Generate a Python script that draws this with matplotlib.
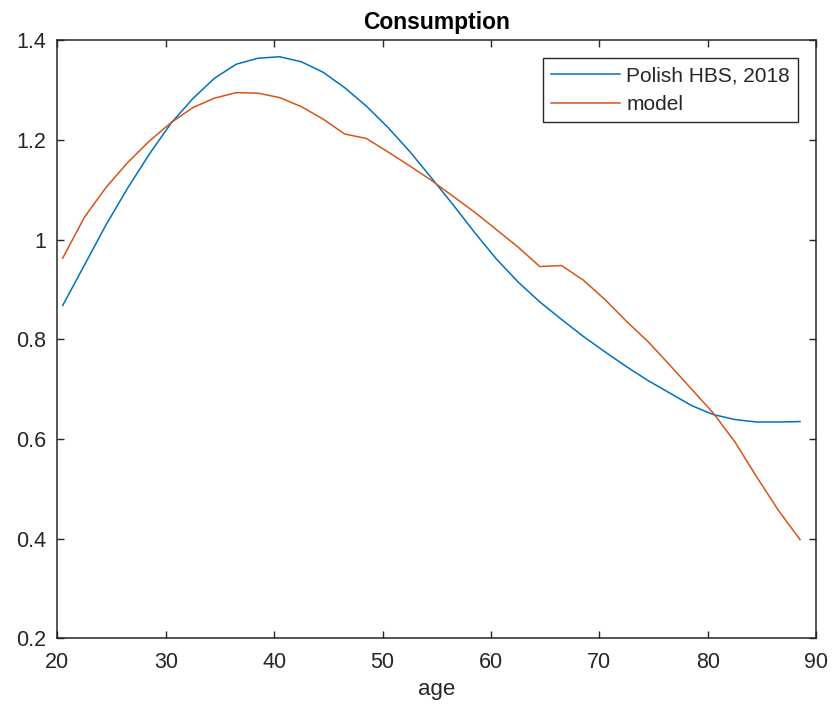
import matplotlib
matplotlib.use("Agg")
import matplotlib.pyplot as plt

plt.rcParams['font.family'] = ['Liberation Sans', 'DejaVu Sans']

age = [20.5, 22.5, 24.5, 26.5, 28.5, 30.5, 32.5, 34.5, 36.5, 38.5, 40.5, 42.5,
       44.5, 46.5, 48.5, 50.5, 52.5, 54.5, 56.5, 58.5, 60.5, 62.5, 64.5, 66.5,
       68.5, 70.5, 72.5, 74.5, 76.5, 78.5, 80.5, 82.5, 84.5, 86.5, 88.5]

hbs = [0.868, 0.949, 1.030, 1.104, 1.172, 1.234, 1.283, 1.324, 1.352, 1.364,
       1.367, 1.357, 1.336, 1.305, 1.268, 1.225, 1.177, 1.124, 1.070, 1.014,
       0.961, 0.915, 0.875, 0.840, 0.806, 0.775, 0.745, 0.717, 0.692, 0.667,
       0.649, 0.639, 0.634, 0.634, 0.635]

model = [0.963, 1.045, 1.105, 1.155, 1.198, 1.235, 1.265, 1.284, 1.295, 1.294,
         1.285, 1.267, 1.242, 1.212, 1.203, 1.176, 1.148, 1.119, 1.087, 1.055,
         1.020, 0.985, 0.946, 0.948, 0.919, 0.880, 0.836, 0.795, 0.748, 0.700,
         0.652, 0.594, 0.524, 0.457, 0.398]

series_labels = ["Polish HBS, 2018", "model"]
x_ticks = [20, 30, 40, 50, 60, 70, 80, 90]
y_ticks = [0.2, 0.4, 0.6, 0.8, 1.0, 1.2, 1.4]
y_tick_labels = ["0.2", "0.4", "0.6", "0.8", "1", "1.2", "1.4"]

fig = plt.figure(figsize=(8.32, 7.12), dpi=100)
ax = fig.add_axes([0.0689, 0.1035, 0.9122, 0.8399])

ax.plot(age, hbs, color='#0072BD', lw=1.1, label=series_labels[0])
ax.plot(age, model, color='#D95319', lw=1.1, label=series_labels[1])

ax.set_xlim(20, 90)
ax.set_ylim(0.2, 1.4)
ax.set_xticks(x_ticks)
ax.set_yticks(y_ticks)
ax.set_yticklabels(y_tick_labels)

dark = '#262626'
for sp in ax.spines.values():
    sp.set_color(dark)
    sp.set_linewidth(1.1)
ax.tick_params(direction='in', length=5, width=1.0, color=dark,
               labelcolor=dark, labelsize=15.5, top=True, right=True)
ax.tick_params(axis='x', pad=10)
ax.tick_params(axis='y', pad=8)

ax.set_title("Consumption", fontsize=16.5, fontweight='bold', color='black', pad=8)
ax.set_xlabel("age", fontsize=16, color=dark, labelpad=4)

leg = ax.legend(loc='upper right', bbox_to_anchor=(0.9763, 0.9699),
                borderaxespad=0, fontsize=15, handlelength=3.3,
                handletextpad=0.3, borderpad=0.4, labelspacing=0.45,
                fancybox=False, framealpha=1)
leg.get_frame().set_edgecolor(dark)
leg.get_frame().set_linewidth(1.0)
for t in leg.get_texts():
    t.set_color(dark)

fig.savefig("out.png", dpi=100)
